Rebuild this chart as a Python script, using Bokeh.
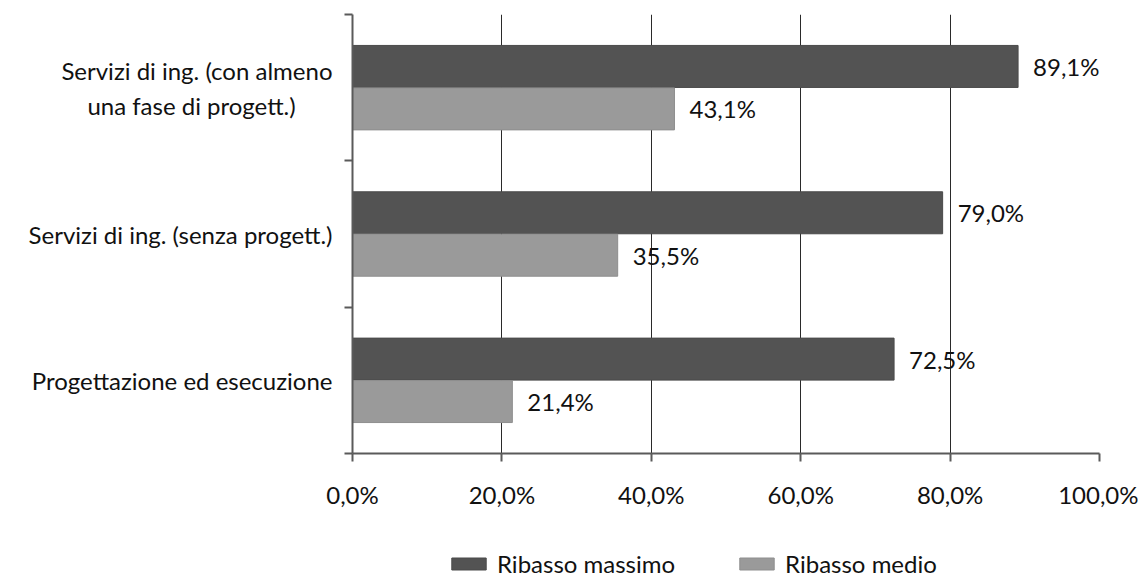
from bokeh.plotting import figure
from bokeh.layouts import column
from bokeh.models import Range1d, FixedTicker, ColumnDataSource, Legend, LegendItem
from bokeh.core.properties import value
from bokeh.embed import file_html
from bokeh.resources import INLINE

categories = ["Progettazione ed esecuzione",
              "Servizi di ing. (senza progett.)",
              "Servizi di ing. (con almeno\nuna fase di progett.)" + "\u00a0" * 6]
ribasso_massimo = [72.5, 79.0, 89.1]
ribasso_medio = [21.4, 35.5, 43.1]
x_ticks = [0, 20, 40, 60, 80, 100]
series_names = ["Ribasso massimo", "Ribasso medio"]

FONT = "Lato"
FS = "24px"
TXT = "#111111"
DARK = "#535353"
LIGHT = "#9a9a9a"
AX = "#5a5a5a"

W = 1138
H_MAIN = 540
H_LEG = 38

centers = [i + 0.5 for i in range(len(categories))]
off = 0.145
bh = 0.287

def fmt(v):
    return f"{v:.1f}%".replace(".", ",")

src_max = ColumnDataSource(dict(y=[c + off for c in centers], x=ribasso_massimo,
                                lab=[fmt(v) for v in ribasso_massimo]))
src_med = ColumnDataSource(dict(y=[c - off for c in centers], x=ribasso_medio,
                                lab=[fmt(v) for v in ribasso_medio]))

p = figure(width=W, height=H_MAIN, x_range=Range1d(0, 100), y_range=Range1d(0, 3),
           output_backend="svg", toolbar_location=None,
           min_border_left=352, min_border_right=W - 1099, min_border_top=14,
           min_border_bottom=H_MAIN - 453)
p.outline_line_color = None
p.background_fill_color = "white"

p.hbar(y="y", right="x", left=0, height=bh, source=src_max, fill_color=DARK,
       line_color="#4a4a4a")
p.hbar(y="y", right="x", left=0, height=bh, source=src_med, fill_color=LIGHT,
       line_color="#8e8e8e")

for s in (src_max, src_med):
    p.text(x="x", y="y", text="lab", source=s, x_offset=15, text_baseline="middle",
           text_align="left", text_font=value(FONT), text_font_size=FS, text_color=TXT)

# grid
p.ygrid.visible = False
p.xgrid.ticker = FixedTicker(ticks=x_ticks[1:])
p.xgrid.grid_line_color = "#2a2a2a"
p.xgrid.grid_line_width = 1

# x axis
xa = p.xaxis[0]
xa.ticker = FixedTicker(ticks=x_ticks)
xa.major_label_overrides = {t: f"{t},0%" for t in x_ticks}
xa.major_label_text_font = FONT
xa.major_label_text_font_size = FS
xa.major_label_text_color = TXT
xa.major_tick_out = 8
xa.major_tick_in = 0
xa.minor_tick_line_color = None
xa.axis_line_color = AX
xa.axis_line_width = 2
xa.major_tick_line_color = AX
xa.major_tick_line_width = 2
xa.major_label_standoff = 18

# y axis
ya = p.yaxis[0]
ya.ticker = FixedTicker(ticks=centers, minor_ticks=[0, 1, 2, 3])
ya.major_label_overrides = {c: lab for c, lab in zip(centers, categories)}
ya.major_label_text_font = FONT
ya.major_label_text_font_size = FS
ya.major_label_text_color = TXT
ya.major_tick_in = 0
ya.major_tick_out = 0
ya.major_tick_line_color = None
ya.minor_tick_in = 0
ya.minor_tick_out = 8
ya.minor_tick_line_color = AX
ya.minor_tick_line_width = 2
ya.axis_line_color = AX
ya.axis_line_width = 2
ya.major_label_standoff = 12

# legend strip: a small figure holding hidden copies of the bar renderers,
# so that only its (unclipped) legend is shown
q = figure(width=W, height=H_LEG, output_backend="svg", toolbar_location=None,
           x_axis_type=None, y_axis_type=None, min_border=0,
           x_range=Range1d(0, 100), y_range=Range1d(0, 3))
q.outline_line_color = None
for g in q.grid:
    g.visible = False
l_max = q.hbar(y="y", right="x", left=0, height=bh, source=src_max,
               fill_color=DARK, line_color="#4a4a4a", visible=False)
l_med = q.hbar(y="y", right="x", left=0, height=bh, source=src_med,
               fill_color=LIGHT, line_color="#8e8e8e", visible=False)
lg = Legend(items=[LegendItem(label=series_names[0], renderers=[l_max]),
                   LegendItem(label=series_names[1], renderers=[l_med])],
            orientation="horizontal", location=(95, 0))
lg.border_line_color = None
lg.background_fill_alpha = 0
lg.inactive_fill_alpha = 0
lg.padding = 0
lg.margin = 0
lg.spacing = 60
lg.glyph_width = 43
lg.glyph_height = 15
lg.label_standoff = 7
lg.label_text_font = FONT
lg.label_text_font_size = FS
lg.label_text_color = TXT
lg.label_height = 24
lg.click_policy = "none"
q.add_layout(lg)

layout = column(p, q, spacing=0)
open("out.html", "w").write(file_html(layout, INLINE))
